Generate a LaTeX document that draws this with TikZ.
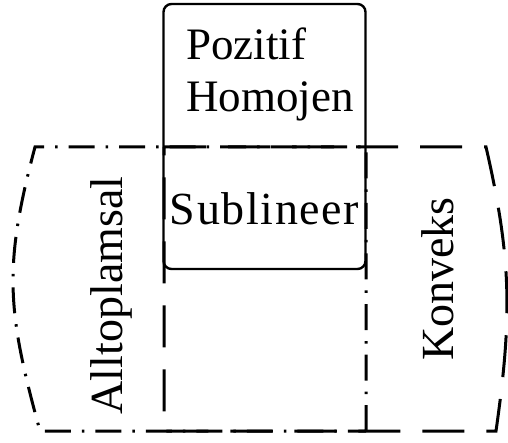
\documentclass[tikz,border=0pt]{standalone}
\usepackage{fontspec}
\setmainfont{Liberation Serif}
\begin{document}
\begin{tikzpicture}[x=1pt,y=-1pt,
  dashdot/.style={line width=3pt, dash pattern=on 26pt off 11pt on 2.5pt off 11pt},
  dashedline/.style={line width=3pt, dash pattern=on 42pt off 22pt},
  lbl/.style={font=\fontsize{46}{52}\selectfont, inner sep=0pt}]
\useasboundingbox (0,0) rectangle (508,443);
\draw[dashdot] (366,431) -- (366,147) -- (35,147) .. controls (3,267) and (7,311) .. (40,431) -- cycle;
\draw[dashedline] (164,147) -- (486,147) .. controls (512,260) and (512,318) .. (496,431) -- (164,431) -- cycle;
\node[draw, line width=2.4pt, rounded corners=8pt, minimum width=202pt, minimum height=265pt, inner sep=0pt] (ph) at (264.5,136.5) {};
\node[lbl, font=\fontsize{45}{52}\selectfont, align=left, anchor=base west] (poz) at (186,112) {Pozitif\\Homojen};
\node[lbl, anchor=base] (sub) at (264.5,225) {\addfontfeature{LetterSpace=3.5}Sublineer};
\node[lbl, rotate=90, anchor=base] (alt) at (122,295.5) {Alltoplamsal};
\node[lbl, rotate=90, anchor=base] (kon) at (453,279) {Konveks};
\end{tikzpicture}
\end{document}
